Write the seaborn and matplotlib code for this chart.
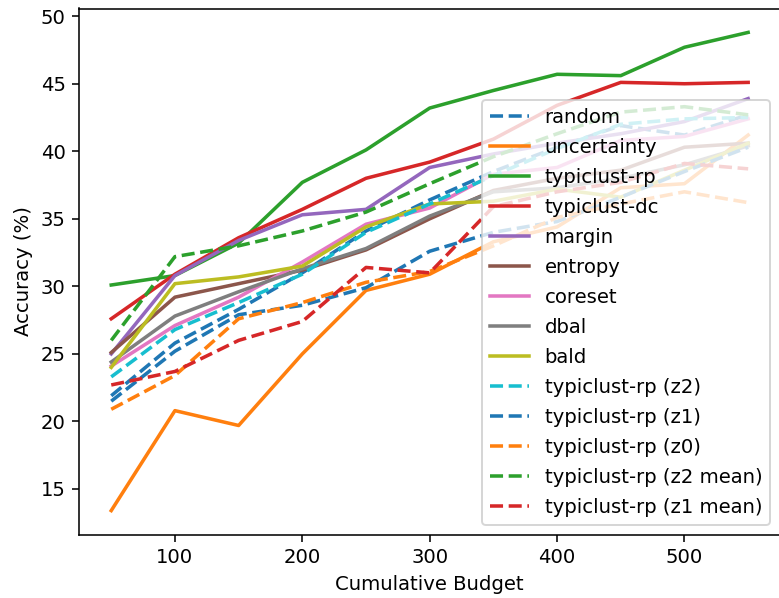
import matplotlib
matplotlib.use("Agg")
import matplotlib.pyplot as plt
import seaborn as sns
import pandas as pd

budgets = [50, 100, 150, 200, 250, 300, 350, 400, 450, 500, 550]

methods = ["random", "uncertainty", "typiclust-rp", "typiclust-dc", "margin",
           "entropy", "coreset", "dbal", "bald", "typiclust-rp (z2)",
           "typiclust-rp (z1)", "typiclust-rp (z0)", "typiclust-rp (z2 mean)",
           "typiclust-rp (z1 mean)"]

random_acc = [21.9, 25.8, 28.3, 31.0, 34.1, 36.4, 38.5, 40.3, 41.9, 41.2, 42.7]
uncertainty_acc = [13.4, 20.8, 19.7, 25.0, 29.7, 30.9, 33.3, 34.4, 37.3, 37.6, 41.2]
typiclust_rp_acc = [30.1, 30.8, 33.2, 37.7, 40.1, 43.2, 44.5, 45.7, 45.6, 47.7, 48.8]
typiclust_dc_acc = [27.6, 30.9, 33.6, 35.7, 38.0, 39.2, 40.9, 43.4, 45.1, 45.0, 45.1]
margin_acc = [25.0, 30.8, 33.4, 35.3, 35.7, 38.8, 39.8, 40.6, 41.3, 42.2, 43.9]
entropy_acc = [25.1, 29.2, 30.2, 31.2, 32.7, 35.0, 37.1, 38.0, 38.6, 40.3, 40.6]
coreset_acc = [24.1, 27.1, 29.2, 31.8, 34.6, 35.8, 38.3, 38.8, 40.8, 41.1, 42.4]
dbal_acc = [24.4, 27.8, 29.6, 31.3, 32.8, 35.2, 37.0, 37.3, 38.0, 39.0, 40.4]
bald_acc = [24.0, 30.2, 30.7, 31.5, 34.4, 36.1, 36.3, 37.2, 36.6, 38.6, 40.6]
z2_acc = [23.3, 26.8, 28.8, 30.9, 34.0, 36.1, 38.2, 40.2, 42.0, 42.4, 42.5]
z1_acc = [21.5, 25.2, 27.9, 28.6, 29.9, 32.6, 34.0, 34.8, 36.6, 38.5, 40.3]
z0_acc = [20.9, 23.4, 27.6, 28.8, 30.3, 31.1, 33.0, 35.1, 36.1, 37.0, 36.2]
z2_mean_acc = [26.0, 32.2, 33.0, 34.1, 35.5, 37.6, 39.6, 41.3, 42.9, 43.3, 42.7]
z1_mean_acc = [22.7, 23.7, 26.0, 27.4, 31.4, 31.0, 35.9, 37.0, 37.7, 39.1, 38.7]

series = [random_acc, uncertainty_acc, typiclust_rp_acc, typiclust_dc_acc,
          margin_acc, entropy_acc, coreset_acc, dbal_acc, bald_acc, z2_acc,
          z1_acc, z0_acc, z2_mean_acc, z1_mean_acc]

dashed = {"random", "typiclust-rp (z2)", "typiclust-rp (z1)", "typiclust-rp (z0)",
          "typiclust-rp (z2 mean)", "typiclust-rp (z1 mean)"}

rows = []
for m, vals in zip(methods, series):
    for b, v in zip(budgets, vals):
        rows.append({"budget": b, "acc": v, "method": m})
df = pd.DataFrame(rows)

tab10 = sns.color_palette("tab10", 10)
palette = {m: tab10[i % 10] for i, m in enumerate(methods)}
dashes = {m: ((3.7, 1.6) if m in dashed else "") for m in methods}

W, H, DPI = 779, 598, 141
fig = plt.figure(figsize=(W / DPI, H / DPI), dpi=DPI)
ax = fig.add_axes([79.4 / W, 1 - 534.5 / H, (780.0 - 79.4) / W, (534.5 - 8.5) / H])

sns.lineplot(data=df, x="budget", y="acc", hue="method", style="method",
             hue_order=methods, style_order=methods, palette=palette,
             dashes=dashes, linewidth=1.8, ax=ax)

handles, labels = ax.get_legend_handles_labels()
pairs = [(h, l) for h, l in zip(handles, labels) if l in methods]
ax.legend([p[0] for p in pairs], [p[1] for p in pairs], loc="lower right",
          labelspacing=0.56)

ax.set_xlabel("Cumulative Budget")
ax.set_ylabel("Accuracy (%)")

fig.savefig("out.png", dpi=DPI)
